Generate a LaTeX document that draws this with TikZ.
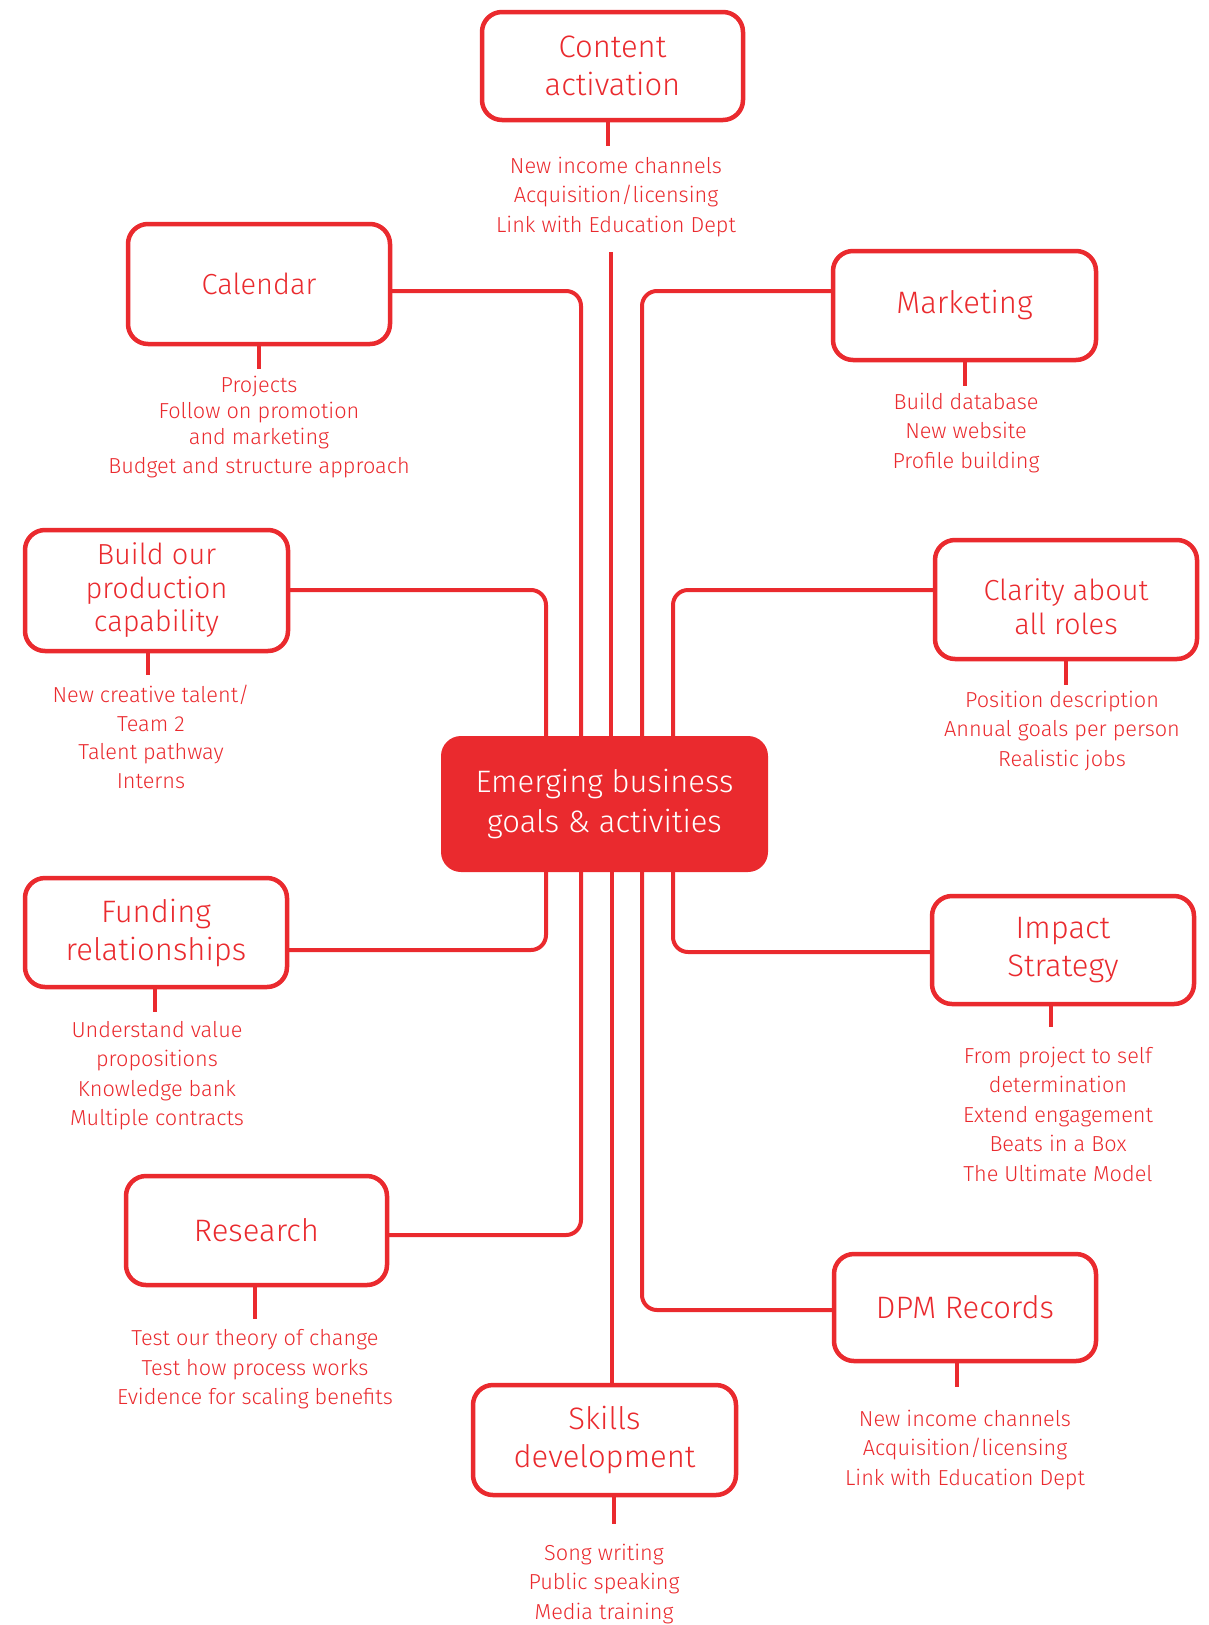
\documentclass[tikz,border=0pt]{standalone}
\usepackage{fontspec}
\setmainfont{Fira Sans Light}
\definecolor{dred}{RGB}{234,42,46}
\begin{document}
\begin{tikzpicture}[x=1pt,y=-1pt,
  box/.style={draw=dred,line width=4.5pt,rounded corners=20pt,fill=white,
    text=dred,align=center,font=\fontsize{31}{38}\selectfont,inner sep=0pt},
  hub/.style={fill=dred,rounded corners=20pt,text=white,align=center,
    font=\fontsize{31}{40}\selectfont,inner sep=0pt},
  txt/.style={text=dred,align=center,font=\fontsize{21.7}{29.5}\selectfont,inner sep=0pt},
  conn/.style={draw=dred,line width=4pt,rounded corners=15pt},
  stub/.style={draw=dred,line width=4pt}]
\useasboundingbox (0,0) rectangle (1209,1625);

% central hub
\node[hub,minimum width=327pt,minimum height=136pt] (hub) at (604.5,804) {Emerging business\\goals \& activities};

% hub anchor coordinates
\coordinate (t1) at (546,736);
\coordinate (t2) at (581,736);
\coordinate (t3) at (611,736);
\coordinate (t4) at (642,736);
\coordinate (t5) at (673,736);
\coordinate (b1) at (546,872);
\coordinate (b2) at (581,872);
\coordinate (b3) at (612,872);
\coordinate (b4) at (642,872);
\coordinate (b5) at (673,872);

% boxes
\node[box,minimum width=261pt,minimum height=108pt] (content) at (612.5,66) {Content\\activation};
\node[box,minimum width=262pt,minimum height=120pt,font=\fontsize{29}{34}\selectfont] (calendar) at (259,284) {Calendar};
\node[box,minimum width=263pt,minimum height=109pt] (marketing) at (964.5,305.5) {Marketing};
\node[box,minimum width=263pt,minimum height=121pt,font=\fontsize{29}{33.5}\selectfont] (build) at (156.5,590.5) {Build our\\production\\capability};
\node[box,minimum width=262pt,minimum height=119pt,font=\fontsize{29}{34}\selectfont] (clarity) at (1066,599.5) {\rule{0pt}{36pt}Clarity about\\all roles};
\node[box,minimum width=262pt,minimum height=109pt] (funding) at (156,932.5) {Funding\\relationships};
\node[box,minimum width=262pt,minimum height=108pt] (impact) at (1063,950) {Impact\\Strategy};
\node[box,minimum width=261pt,minimum height=109pt] (research) at (256.5,1230.5) {Research};
\node[box,minimum width=262pt,minimum height=107pt] (dpm) at (965,1307.5) {DPM Records};
\node[box,minimum width=263pt,minimum height=110pt] (skills) at (604.5,1440) {Skills\\development};

% connector end points on boxes
\coordinate (calE) at (390,291);
\coordinate (mkW) at (833,291);
\coordinate (bdE) at (288,590);
\coordinate (clW) at (935,590);
\coordinate (fdE) at (287,950);
\coordinate (imW) at (932,952);
\coordinate (rsE) at (387,1235);
\coordinate (dpW) at (834,1310);
\coordinate (ctTop) at (611,252);

% connectors
\draw[conn] (calE) -| (t2);
\draw[conn] (mkW) -| (t4);
\draw[conn] (bdE) -| (t1);
\draw[conn] (clW) -| (t5);
\draw[conn] (ctTop) -- (t3);
\draw[conn] (fdE) -| (b1);
\draw[conn] (imW) -| (b5);
\draw[conn] (rsE) -| (b2);
\draw[conn] (dpW) -| (b4);
\draw[conn] (b3) -- (skills.north -| b3);

% text blocks
\node[txt] (contentT) at (616,197) {New income channels\\Acquisition/licensing\\Link with Education Dept};
\node[txt,font=\fontsize{21.7}{26}\selectfont] (calendarT) at (259,427) {Projects\\Follow on promotion\\and marketing\\[3pt]Budget and structure approach};
\node[txt] (marketingT) at (966,433) {Build database\\New website\\Profile building};
\node[txt,font=\fontsize{21.7}{28.7}\selectfont] (buildT) at (151,737) {New creative talent/\\Team 2\\Talent pathway\\Interns};
\node[txt] (clarityT) at (1062,731) {Position description\\Annual goals per person\\Realistic jobs};
\node[txt] (fundingT) at (157,1075.5) {Understand value\\propositions\\Knowledge bank\\Multiple contracts};
\node[txt] (impactT) at (1058,1114) {From project to self\\determination\\Extend engagement\\Beats in a Box\\The Ultimate Model};
\node[txt] (researchT) at (255,1369.5) {Test our theory of change\\Test how process works\\Evidence for scaling benefits};
\node[txt] (dpmT) at (965,1450) {New income channels\\Acquisition/licensing\\Link with Education Dept};
\node[txt] (skillsT) at (604,1584) {Song writing\\Public speaking\\Media training};

% stubs
\draw[stub] (content.south -| 608,0) -- (608,146);
\draw[stub] (calendar.south -| 259,0) -- (259,369);
\draw[stub] (marketing.south -| 965,0) -- (965,386);
\draw[stub] (build.south -| 148,0) -- (148,675);
\draw[stub] (clarity.south -| 1066,0) -- (1066,685);
\draw[stub] (funding.south -| 155,0) -- (155,1012);
\draw[stub] (impact.south -| 1051,0) -- (1051,1027);
\draw[stub] (research.south -| 255,0) -- (255,1319);
\draw[stub] (dpm.south -| 957,0) -- (957,1387);
\draw[stub] (skills.south -| 614,0) -- (614,1524);
\end{tikzpicture}
\end{document}
